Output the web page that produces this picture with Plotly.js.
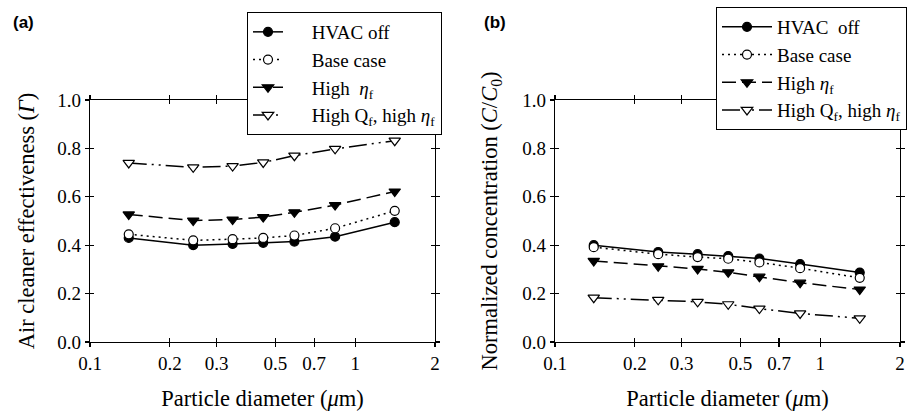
<!DOCTYPE html>
<html><head><meta charset="utf-8">
<script src="https://cdn.plot.ly/plotly-3.0.1.min.js"></script>
<style>html,body{margin:0;padding:0;background:#fff;}#c{width:910px;height:411px;}</style>
</head><body><div id="c"></div>
<script>
const diam = [0.14, 0.245, 0.345, 0.45, 0.59, 0.84, 1.41];
const xTickVals = [0.1, 0.2, 0.3, 0.5, 0.7, 1, 2];
const xTickText = ["0.1", "0.2", "0.3", "0.5", "0.7", "1", "2"];
const yTickVals = [0, 0.2, 0.4, 0.6, 0.8, 1.0];
const PAD = "\u00a0\u00a0\u00a0\u00a0\u00a0";
const seriesNames = ["HVAC off", "Base case", "High  <i>η</i><sub>f</sub>", "High Q<sub>f</sub>, high <i>η</i><sub>f</sub>"];
const seriesNamesB = ["HVAC  off", "Base case", "High <i>η</i><sub>f</sub>", "High Q<sub>f</sub>, high <i>η</i><sub>f</sub>"];
// Panel (a): air cleaner effectiveness
const aHvacOff = [0.43, 0.40, 0.405, 0.41, 0.415, 0.435, 0.495];
const aBase    = [0.445, 0.42, 0.425, 0.43, 0.44, 0.47, 0.542];
const aHighEta = [0.527, 0.502, 0.506, 0.516, 0.536, 0.566, 0.622];
const aHighQ   = [0.74, 0.722, 0.727, 0.742, 0.77, 0.798, 0.832];
// Panel (b): normalized concentration
const bHvacOff = [0.40, 0.372, 0.363, 0.355, 0.345, 0.322, 0.287];
const bBase    = [0.392, 0.363, 0.351, 0.344, 0.329, 0.305, 0.265];
const bHighEta = [0.335, 0.313, 0.302, 0.288, 0.27, 0.245, 0.217];
const bHighQ   = [0.183, 0.174, 0.166, 0.156, 0.138, 0.118, 0.098];

const SERIF = "Liberation Serif";
const SANS = "Liberation Sans";
const styles = [
  {dash: "solid", symbol: "circle", fill: "black"},
  {dash: "2px,4px", symbol: "circle", fill: "white"},
  {dash: "14px,6px", symbol: "triangle-down", fill: "black"},
  {dash: "18px,5px,2px,5px,2px,5px", symbol: "triangle-down", fill: "white"}
];
function mk(y, i, xa, ya, leg, name) {
  const s = styles[i];
  return {
    x: diam, y: y, xaxis: xa, yaxis: ya, type: "scatter", mode: "lines+markers",
    name: name, legend: leg,
    line: {color: "black", width: 1.5, dash: s.dash},
    marker: {symbol: s.symbol, size: s.symbol.startsWith("triangle") ? 10 : 9,
             color: s.fill, line: {color: "black", width: 1.2}}
  };
}
const dataA = [aHvacOff, aBase, aHighEta, aHighQ];
const dataB = [bHvacOff, bBase, bHighEta, bHighQ];
const traces = [];
dataA.forEach((y, i) => traces.push(mk(y, i, "x", "y", "legend", PAD + seriesNames[i])));
dataB.forEach((y, i) => traces.push(mk(y, i, "x2", "y2", "legend2", seriesNamesB[i])));
// dummy traces for inner-tick overlay axes
traces.push({x: [null], y: [null], xaxis: "x3", yaxis: "y3", showlegend: false, hoverinfo: "skip", mode: "markers"});
traces.push({x: [null], y: [null], xaxis: "x4", yaxis: "y4", showlegend: false, hoverinfo: "skip", mode: "markers"});

const W = 910, H = 411;
const yDom = [(H - 342) / H, (H - 100) / H];
const xDomA = [90 / W, 435 / W];
const xDomB = [555 / W, 900 / W];
const tickFont = {family: SERIF, size: 19, color: "black"};
const titleFont = {family: SERIF, size: 22.5, color: "black"};
function xAx(dom, anchor, title) {
  return {type: "log", domain: dom, anchor: anchor, range: [-1, Math.log10(2)],
    tickvals: xTickVals, ticktext: xTickText, ticks: "outside", ticklen: 4, tickwidth: 1.2, tickcolor: "black",
    showline: true, linecolor: "black", linewidth: 1.2, mirror: "ticks", showgrid: false, zeroline: false,
    tickfont: tickFont, title: {text: title, font: titleFont, standoff: 17}};
}
function yAx(dom, anchor, title, so) {
  return {domain: dom, anchor: anchor, range: [0, 1.0], tickvals: yTickVals, tickformat: ".1f",
    ticks: "outside", ticklen: 4, tickwidth: 1.2, tickcolor: "black",
    showline: true, linecolor: "black", linewidth: 1.2, mirror: "ticks", showgrid: false, zeroline: false,
    tickfont: tickFont, title: {text: title, font: titleFont, standoff: so}};
}
function xIn(over, anchor) {
  return {type: "log", overlaying: over, anchor: anchor, range: [-1, Math.log10(2)], tickvals: xTickVals,
    ticks: "inside", ticklen: 4, tickwidth: 1.2, tickcolor: "black", mirror: "ticks", showline: false,
    showticklabels: false, showgrid: false, zeroline: false};
}
function yIn(over, anchor) {
  return {overlaying: over, anchor: anchor, range: [0, 1.0], tickvals: yTickVals,
    ticks: "inside", ticklen: 4, tickwidth: 1.2, tickcolor: "black", mirror: "ticks", showline: false,
    showticklabels: false, showgrid: false, zeroline: false};
}
const legBase = {bgcolor: "white", bordercolor: "black", borderwidth: 1,
  font: {family: SERIF, size: 19, color: "black"}, xanchor: "left", yanchor: "top", tracegroupgap: 0};
const layout = {
  width: W, height: H, margin: {l: 0, r: 0, t: 0, b: 0},
  paper_bgcolor: "white", plot_bgcolor: "white", showlegend: true,
  font: {family: SERIF, color: "black"},
  xaxis: xAx(xDomA, "y", "Particle diameter (<i>μ</i>m)"),
  yaxis: yAx(yDom, "x", "Air cleaner effectiveness (<i>Γ</i>)", 16),
  xaxis2: xAx(xDomB, "y2", "Particle diameter (<i>μ</i>m)"),
  yaxis2: yAx(yDom, "x2", "Normalized concentration (<i>C</i>/<i>C</i><sub>0</sub>)", 18),
  xaxis3: xIn("x", "y3"), yaxis3: yIn("y", "x3"),
  xaxis4: xIn("x2", "y4"), yaxis4: yIn("y2", "x4"),
  legend: Object.assign({}, legBase, {x: 247 / W, y: 1 - 12 / H, itemwidth: 30}),
  legend2: Object.assign({}, legBase, {x: 716 / W, y: 1 - 7 / H, itemwidth: 50}),
  annotations: [
    {text: "<b>(a)</b>", xref: "paper", yref: "paper", x: 11 / W, y: 1 - 22 / H, xanchor: "left", yanchor: "middle",
     showarrow: false, font: {family: SANS, size: 17, color: "black"}},
    {text: "<b>(b)</b>", xref: "paper", yref: "paper", x: 482 / W, y: 1 - 22 / H, xanchor: "left", yanchor: "middle",
     showarrow: false, font: {family: SANS, size: 17, color: "black"}}
  ]
};
Plotly.newPlot("c", traces, layout, {staticPlot: true, displayModeBar: false});
</script></body></html>
